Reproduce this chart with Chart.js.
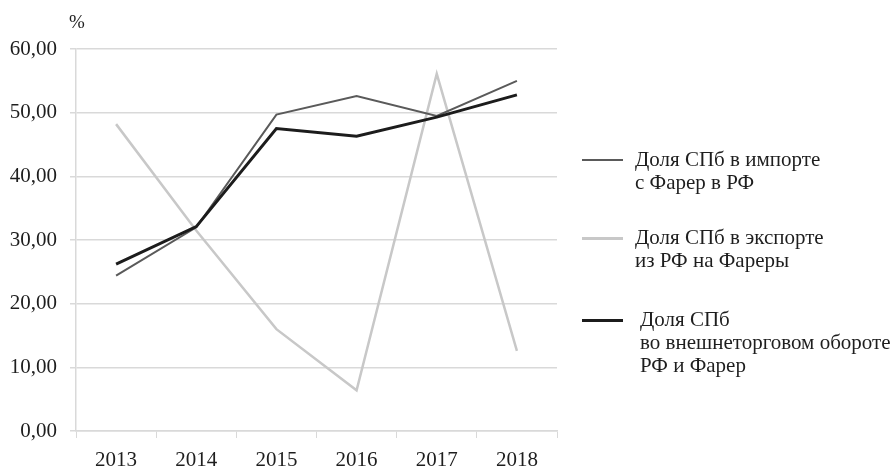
<!DOCTYPE html>
<html lang="ru">

<head>
    <meta charset="UTF-8">
    <title>Доля СПб</title>
    <script src="https://cdn.jsdelivr.net/npm/chart.js"></script>
    <style>
        html,
        body {
            margin: 0;
            padding: 0;
            width: 892px;
            height: 467px;
            background-color: #ffffff;
            font-family: "Liberation Serif", "DejaVu Serif", serif;
            overflow: hidden;
        }

        #chart-container {
            position: relative;
            width: 892px;
            height: 467px;
        }

        #legend {
            position: absolute;
            left: 0;
            top: 0;
        }

        .legend-item {
            position: absolute;
            left: 582px;
            display: flex;
            align-items: flex-start;
            font-size: 21px;
            line-height: 23px;
            color: #1e1e1e;
            white-space: nowrap;
        }

        .legend-swatch {
            width: 41px;
            margin-right: 12px;
            margin-top: 11px;
            flex: none;
        }
    </style>
</head>

<body>

    <div id="chart-container">
        <canvas id="share"></canvas>
        <div id="legend"></div>
    </div>

    <script>
        const years = ['2013', '2014', '2015', '2016', '2017', '2018'];

        const importShare = [24.4, 32.0, 49.7, 52.6, 49.5, 55.0];
        const exportShare = [48.2, 31.5, 16.0, 6.4, 56.1, 12.6];
        const totalShare = [26.2, 32.1, 47.5, 46.3, 49.3, 52.8];

        const seriesLabels = [
            ['Доля СПб в импорте', 'с Фарер в РФ'],
            ['Доля СПб в экспорте', 'из РФ на Фареры'],
            ['Доля СПб', 'во внешнеторговом обороте', 'РФ и Фарер']
        ];

        const yTicks = [0, 10, 20, 30, 40, 50, 60];

        const font = { family: '"Liberation Serif", serif', size: 21 };

        // % label above the y axis
        const unitLabel = {
            id: 'unitLabel',
            afterDraw(chart) {
                const ctx = chart.ctx;
                ctx.save();
                ctx.font = '19px "Liberation Serif", serif';
                ctx.fillStyle = '#222';
                ctx.textAlign = 'center';
                ctx.textBaseline = 'middle';
                ctx.fillText('%', chart.chartArea.left + 1, 23);
                ctx.restore();
            }
        };

        const chart = new Chart(document.getElementById('share'), {
            type: 'line',
            data: {
                labels: years,
                datasets: [
                    {
                        label: seriesLabels[0].join(' '),
                        data: importShare,
                        borderColor: '#5a5a5a',
                        borderWidth: 2,
                        order: 2
                    },
                    {
                        label: seriesLabels[1].join(' '),
                        data: exportShare,
                        borderColor: '#c8c8c8',
                        borderWidth: 2.5,
                        order: 3
                    },
                    {
                        label: seriesLabels[2].join(' '),
                        data: totalShare,
                        borderColor: '#1c1c1c',
                        borderWidth: 3,
                        order: 1
                    }
                ]
            },
            options: {
                responsive: true,
                maintainAspectRatio: false,
                animation: false,
                elements: {
                    point: { radius: 0, hoverRadius: 0 },
                    line: { tension: 0 }
                },
                layout: {
                    padding: { top: 49, right: 335, left: 0, bottom: 0 }
                },
                scales: {
                    x: {
                        offset: true,
                        afterFit: s => { s.height = 36; },
                        border: { color: '#d9d9d9', width: 1.5 },
                        grid: {
                            offset: true,
                            drawOnChartArea: false,
                            drawTicks: true,
                            tickLength: 7,
                            color: '#d9d9d9'
                        },
                        ticks: { color: '#1e1e1e', font: font, padding: 10, maxRotation: 0 }
                    },
                    y: {
                        min: 0,
                        max: 60,
                        afterFit: s => { s.width = 76; },
                        afterBuildTicks: s => { s.ticks = yTicks.map(v => ({ value: v })); },
                        border: { color: '#d9d9d9', width: 1.5 },
                        grid: {
                            color: '#d9d9d9',
                            lineWidth: 1.5,
                            tickLength: 6
                        },
                        ticks: {
                            color: '#1e1e1e',
                            font: font,
                            padding: 13,
                            callback: v => v.toFixed(2).replace('.', ',')
                        }
                    }
                },
                plugins: {
                    legend: { display: false },
                    tooltip: { enabled: false },
                    title: { display: false }
                }
            },
            plugins: [unitLabel]
        });

        // legend beside the plot, multi-line labels
        const legendTops = [148, 226, 308];
        const legendIndent = [0, 0, 5];
        const legend = document.getElementById('legend');
        chart.data.datasets.forEach((ds, i) => {
            const item = document.createElement('div');
            item.className = 'legend-item';
            item.style.top = legendTops[i] + 'px';

            const swatch = document.createElement('div');
            swatch.className = 'legend-swatch';
            swatch.style.borderTop = (ds.borderWidth + 0.5) + 'px solid ' + ds.borderColor;
            swatch.style.marginRight = (12 + legendIndent[i]) + 'px';

            const text = document.createElement('div');
            seriesLabels[i].forEach(line => {
                const row = document.createElement('div');
                row.textContent = line;
                text.appendChild(row);
            });

            item.appendChild(swatch);
            item.appendChild(text);
            legend.appendChild(item);
        });
    </script>
</body>

</html>
